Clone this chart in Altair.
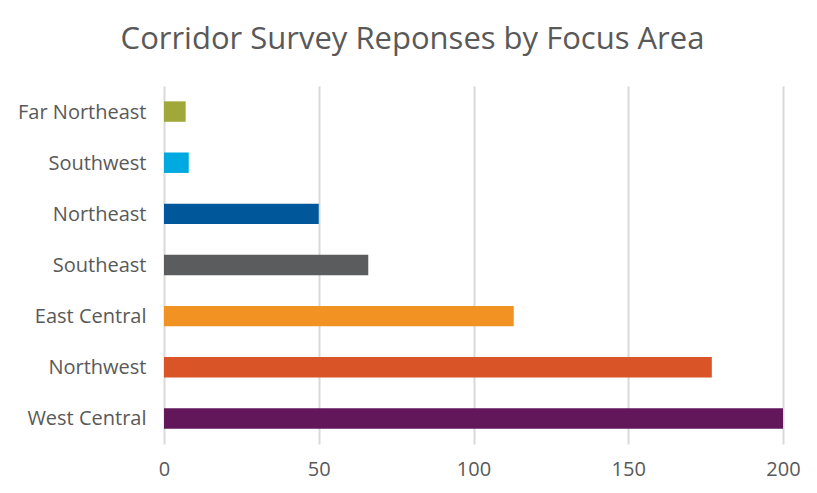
import altair as alt
import pandas as pd

categories = ["Far Northeast", "Southwest", "Northeast", "Southeast",
              "East Central", "Northwest", "West Central"]
values = [7, 8, 50, 66, 113, 177, 200]
colors = ["#A1A83A", "#00A9E0", "#00589A", "#5B5C5E",
          "#F29222", "#D95427", "#62175B"]
x_ticks = [0, 50, 100, 150, 200]

df = pd.DataFrame({"area": categories, "value": values})

FONT = "Open Sans"
GREY = "#595959"

chart = alt.Chart(df).mark_bar().encode(
    y=alt.Y("area:N", sort=categories,
            scale=alt.Scale(paddingInner=0.6, paddingOuter=0.3),
            axis=alt.Axis(title=None, domain=False, ticks=False, labelPadding=18, labelOffset=1,
                          labelFontSize=20, labelColor=GREY, labelFont=FONT, grid=False)),
    x=alt.X("value:Q", scale=alt.Scale(domain=[0, 200], nice=False),
            axis=alt.Axis(values=x_ticks, title=None, domain=False, ticks=False,
                          grid=True, gridColor="#D9D9D9", gridWidth=2, labelFlush=False,
                          labelPadding=15, labelFontSize=20, labelColor=GREY, labelFont=FONT)),
    color=alt.Color("area:N", scale=alt.Scale(domain=categories, range=colors), legend=None),
).properties(
    width=619, height=358,
    background="white",
    title=alt.TitleParams("Corridor Survey Reponses by Focus Area", fontSize=31, font=FONT,
                          color=GREY, fontWeight="normal", anchor="middle", dx=-61, offset=30),
    autosize=alt.AutoSizeParams(type="none"),
    padding={"left": 156, "top": 78, "right": 26, "bottom": 41},
).configure_view(stroke=None)

chart.save("out.html", embed_options={"renderer": "svg", "actions": False})
